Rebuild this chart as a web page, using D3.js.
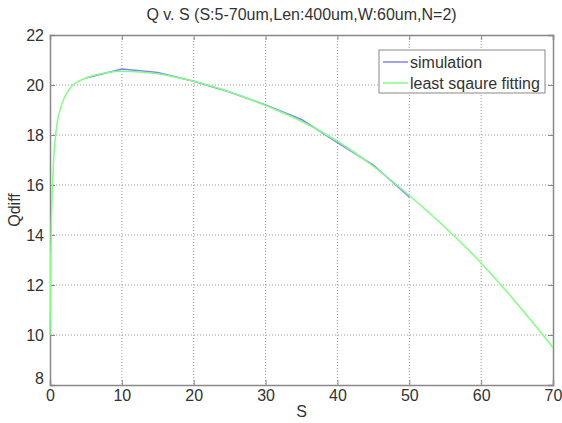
<!DOCTYPE html>
<html>
<head>
<meta charset="utf-8">
<script src="https://cdn.jsdelivr.net/npm/d3@7"></script>
<style>
  body { margin: 0; background: #fff; }
  svg { font-family: "Liberation Sans", Arial, sans-serif; }
</style>
</head>
<body>
<svg id="chart" width="562" height="423"></svg>
<script>
// simulation points (blue)
var simS = [5, 10, 15, 20, 25, 30, 35, 40, 45, 50];
var simQ = [20.28, 20.64, 20.5, 20.15, 19.72, 19.2, 18.62, 17.7, 16.8, 15.52];

// least square fitting curve (green)
var fitS = [0, 0.1, 0.2, 0.35, 0.5, 0.75, 1, 1.5, 2, 2.5, 3, 4, 5, 6, 8, 10, 12, 15, 18, 20, 25, 30, 35, 40, 45, 50, 55, 60, 65, 70];
var fitQ = [10.0, 13.0, 14.6, 16.0, 17.0, 17.9, 18.5, 19.1, 19.5, 19.75, 19.95, 20.15, 20.28, 20.38, 20.5, 20.55, 20.53, 20.45, 20.28, 20.15, 19.72, 19.18, 18.55, 17.75, 16.75, 15.58, 14.3, 12.88, 11.25, 9.5];

var xTicks = [0, 10, 20, 30, 40, 50, 60, 70];
var yTicks = [8, 10, 12, 14, 16, 18, 20, 22];
var seriesNames = ["simulation", "least sqaure fitting"];
var seriesColors = ["#8080ff", "#80ff80"];

var mLeft = 50, mRight = 553, mTop = 35, mBottom = 385;
var svg = d3.select("#chart");

var x = d3.scaleLinear().domain([0, 70]).range([mLeft, mRight]);
var y = d3.scaleLinear().domain([8, 22]).range([mBottom, mTop]);

// grid
svg.append("g").selectAll("line").data(xTicks.slice(1, -1)).enter().append("line")
    .attr("x1", function(d) { return x(d); }).attr("x2", function(d) { return x(d); })
    .attr("y1", mTop).attr("y2", mBottom)
    .attr("stroke", "#999").attr("stroke-dasharray", "1,2");
svg.append("g").selectAll("line").data(yTicks.slice(1, -1)).enter().append("line")
    .attr("y1", function(d) { return y(d); }).attr("y2", function(d) { return y(d); })
    .attr("x1", mLeft).attr("x2", mRight)
    .attr("stroke", "#999").attr("stroke-dasharray", "1,2");

// axes (ticks inward, box on all sides)
var axisColor = "#888";
var gx = svg.append("g").attr("transform", "translate(0," + mBottom + ")")
    .call(d3.axisBottom(x).tickValues(xTicks).tickSize(-5).tickPadding(8));
var gy = svg.append("g").attr("transform", "translate(" + mLeft + ",0)")
    .call(d3.axisLeft(y).tickValues(yTicks).tickSize(-5).tickPadding(6));
var gt = svg.append("g").attr("transform", "translate(0," + mTop + ")")
    .call(d3.axisTop(x).tickValues(xTicks).tickSize(-5).tickFormat(""));
var gr = svg.append("g").attr("transform", "translate(" + mRight + ",0)")
    .call(d3.axisRight(y).tickValues(yTicks).tickSize(-5).tickFormat(""));
[gx, gy, gt, gr].forEach(function(g) {
  g.select(".domain").attr("stroke", axisColor).attr("stroke-width", 1.5);
  g.selectAll(".tick line").attr("stroke", axisColor);
  g.selectAll("text").attr("fill", "#333").style("font-size", "16px");
});
gx.selectAll("text").attr("dy", "0.5em");
gy.selectAll(".tick").filter(function(d) { return d === 8; }).select("text").attr("dy", "-0.1em");

// lines
var line = d3.line()
    .x(function(d) { return x(d[0]); })
    .y(function(d) { return y(d[1]); });

svg.append("path")
    .datum(simS.map(function(s, i) { return [s, simQ[i]]; }))
    .attr("d", line)
    .attr("fill", "none").attr("stroke", seriesColors[0]).attr("stroke-width", 1.5);

svg.append("path")
    .datum(fitS.map(function(s, i) { return [s, fitQ[i]]; }))
    .attr("d", line.curve(d3.curveMonotoneX))
    .attr("fill", "none").attr("stroke", seriesColors[1]).attr("stroke-width", 1.5);

// title and labels
svg.append("text").attr("x", (mLeft + mRight) / 2).attr("y", 20)
    .attr("text-anchor", "middle").attr("fill", "#333").style("font-size", "16px")
    .text("Q v. S (S:5-70um,Len:400um,W:60um,N=2)");
svg.append("text").attr("x", (mLeft + mRight) / 2).attr("y", 417)
    .attr("text-anchor", "middle").attr("fill", "#333").style("font-size", "16px")
    .text("S");
svg.append("text").attr("transform", "translate(20," + ((mTop + mBottom) / 2) + ") rotate(-90)")
    .attr("text-anchor", "middle").attr("fill", "#333").style("font-size", "16px")
    .text("Qdiff");

// legend
var lg = svg.append("g").attr("transform", "translate(379,50)");
lg.append("rect").attr("width", 166).attr("height", 43)
    .attr("fill", "#fff").attr("stroke", "#888");
seriesNames.forEach(function(name, i) {
  var yy = 12 + i * 21;
  lg.append("line").attr("x1", 4).attr("x2", 29).attr("y1", yy).attr("y2", yy)
      .attr("stroke", seriesColors[i]).attr("stroke-width", 1.5);
  lg.append("text").attr("x", 31).attr("y", yy).attr("dy", "0.35em")
      .attr("fill", "#333").style("font-size", "16px").text(name);
});
</script>
</body>
</html>
